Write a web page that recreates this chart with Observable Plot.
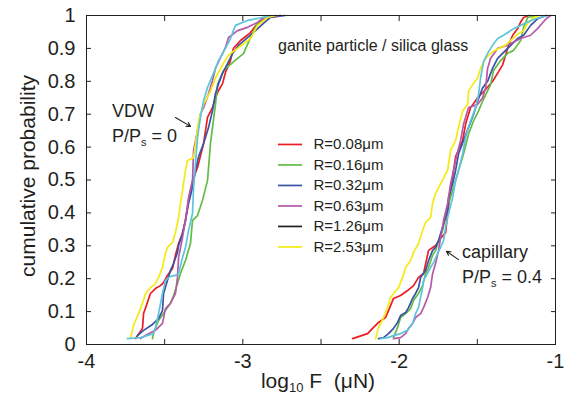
<!DOCTYPE html>
<html><head><meta charset="utf-8">
<script src="https://cdn.jsdelivr.net/npm/d3@7"></script>
<script src="https://cdn.jsdelivr.net/npm/@observablehq/plot@0.6"></script>
<style>body{margin:0;background:#fff} svg{display:block}</style>
</head><body><div id="chart"></div>
<script>
// ---- data ----
const series = ["R=0.08μm", "R=0.16μm", "R=0.32μm", "R=0.63μm", "R=1.26μm", "R=2.53μm"];
const lineColors = ["#ec1c24", "#62bb47", "#3a53a4", "#b559a8", "#5ec4dc", "#f5ea14"];
const legendColors = ["#ec1c24", "#62bb47", "#3a53a4", "#b559a8", "#231f20", "#f5ea14"];
const xTicks = [-4, -3.5, -3, -2.5, -2, -1.5, -1];
const xLabels = [-4, -3, -2, -1];
const yTicks = [0, 0.1, 0.2, 0.3, 0.4, 0.5, 0.6, 0.7, 0.8, 0.9, 1];

// VDW (P/Ps = 0): [log10 F, cumulative probability]
const vdw008 = [[-3.686,0.018],[-3.642,0.049],[-3.635,0.094],[-3.610,0.128],[-3.591,0.155],[-3.559,0.170],[-3.527,0.179],[-3.507,0.188],[-3.482,0.210],[-3.450,0.231],[-3.431,0.271],[-3.411,0.307],[-3.386,0.338],[-3.367,0.377],[-3.347,0.438],[-3.322,0.498],[-3.290,0.538],[-3.251,0.611],[-3.226,0.690],[-3.194,0.720],[-3.175,0.751],[-3.155,0.772],[-3.130,0.793],[-3.111,0.827],[-3.079,0.863],[-3.060,0.900],[-3.015,0.924],[-2.951,0.948],[-2.906,0.976],[-2.842,0.994],[-2.76,1.0]];
const vdw016 = [[-3.578,0.018],[-3.571,0.036],[-3.539,0.073],[-3.495,0.103],[-3.463,0.125],[-3.443,0.149],[-3.418,0.185],[-3.399,0.216],[-3.367,0.255],[-3.335,0.307],[-3.322,0.377],[-3.290,0.392],[-3.258,0.438],[-3.226,0.498],[-3.207,0.611],[-3.175,0.730],[-3.162,0.790],[-3.123,0.833],[-3.066,0.857],[-2.996,0.884],[-2.951,0.933],[-2.906,0.976],[-2.874,0.990],[-2.79,1.0]];
const vdw032 = [[-3.674,0.027],[-3.635,0.043],[-3.578,0.061],[-3.539,0.079],[-3.514,0.103],[-3.507,0.155],[-3.482,0.195],[-3.463,0.225],[-3.443,0.246],[-3.418,0.280],[-3.411,0.301],[-3.386,0.337],[-3.367,0.377],[-3.347,0.429],[-3.322,0.477],[-3.303,0.529],[-3.283,0.571],[-3.251,0.611],[-3.219,0.660],[-3.194,0.711],[-3.175,0.763],[-3.155,0.793],[-3.130,0.824],[-3.098,0.854],[-3.066,0.884],[-3.028,0.909],[-2.970,0.933],[-2.919,0.954],[-2.868,0.976],[-2.823,0.994],[-2.73,1.0]];
const vdw063 = [[-3.655,0.018],[-3.603,0.033],[-3.559,0.043],[-3.514,0.064],[-3.495,0.109],[-3.463,0.125],[-3.431,0.155],[-3.418,0.204],[-3.411,0.264],[-3.386,0.325],[-3.367,0.377],[-3.347,0.447],[-3.322,0.498],[-3.315,0.590],[-3.290,0.650],[-3.271,0.702],[-3.251,0.720],[-3.219,0.763],[-3.194,0.802],[-3.175,0.839],[-3.143,0.872],[-3.111,0.903],[-3.091,0.933],[-3.034,0.954],[-2.970,0.964],[-2.906,0.979],[-2.868,0.994],[-2.76,1.0]];
const vdw126 = [[-3.738,0.018],[-3.655,0.021],[-3.571,0.033],[-3.559,0.052],[-3.539,0.094],[-3.514,0.155],[-3.495,0.195],[-3.463,0.207],[-3.431,0.210],[-3.411,0.216],[-3.386,0.264],[-3.367,0.295],[-3.347,0.347],[-3.322,0.398],[-3.315,0.477],[-3.303,0.550],[-3.290,0.629],[-3.271,0.690],[-3.251,0.742],[-3.226,0.781],[-3.188,0.824],[-3.155,0.863],[-3.111,0.900],[-3.079,0.930],[-3.060,0.954],[-3.047,0.970],[-2.970,0.985],[-2.906,0.991],[-2.82,1.0]];
const vdw253 = [[-3.718,0.021],[-3.699,0.058],[-3.667,0.094],[-3.642,0.125],[-3.622,0.155],[-3.591,0.173],[-3.559,0.185],[-3.539,0.204],[-3.514,0.234],[-3.495,0.277],[-3.482,0.295],[-3.450,0.310],[-3.431,0.340],[-3.411,0.386],[-3.399,0.429],[-3.386,0.468],[-3.367,0.529],[-3.354,0.559],[-3.315,0.568],[-3.303,0.610],[-3.283,0.680],[-3.251,0.730],[-3.207,0.770],[-3.175,0.810],[-3.130,0.850],[-3.091,0.880],[-3.034,0.900],[-2.951,0.930],[-2.906,0.970],[-2.842,0.994],[-2.79,1.0]];

// capillary (P/Ps = 0.4)
const cap008 = [[-2.298,0.018],[-2.202,0.033],[-2.170,0.049],[-2.132,0.067],[-2.087,0.082],[-2.068,0.103],[-2.036,0.140],[-1.991,0.149],[-1.946,0.164],[-1.908,0.179],[-1.876,0.204],[-1.844,0.216],[-1.812,0.286],[-1.767,0.301],[-1.735,0.322],[-1.703,0.340],[-1.690,0.398],[-1.671,0.468],[-1.652,0.529],[-1.639,0.571],[-1.594,0.620],[-1.575,0.670],[-1.543,0.720],[-1.498,0.750],[-1.447,0.775],[-1.402,0.800],[-1.370,0.825],[-1.338,0.850],[-1.319,0.880],[-1.300,0.910],[-1.274,0.940],[-1.243,0.960],[-1.223,0.980],[-1.204,0.994],[-1.17,1.0]];
const cap016 = [[-2.036,0.021],[-2.010,0.052],[-1.991,0.082],[-1.959,0.094],[-1.927,0.109],[-1.908,0.134],[-1.876,0.155],[-1.850,0.179],[-1.831,0.216],[-1.812,0.234],[-1.786,0.271],[-1.767,0.286],[-1.748,0.316],[-1.722,0.347],[-1.703,0.386],[-1.684,0.429],[-1.658,0.468],[-1.626,0.520],[-1.607,0.550],[-1.588,0.580],[-1.556,0.640],[-1.524,0.680],[-1.492,0.710],[-1.466,0.740],[-1.415,0.790],[-1.396,0.833],[-1.351,0.863],[-1.306,0.885],[-1.268,0.894],[-1.223,0.924],[-1.204,0.964],[-1.178,0.994],[-1.11,1.0]];
const cap032 = [[-2.132,0.018],[-2.100,0.021],[-2.068,0.033],[-2.036,0.049],[-2.010,0.067],[-1.991,0.088],[-1.959,0.097],[-1.940,0.112],[-1.914,0.140],[-1.895,0.155],[-1.876,0.173],[-1.863,0.204],[-1.831,0.225],[-1.812,0.255],[-1.786,0.286],[-1.767,0.295],[-1.748,0.316],[-1.735,0.337],[-1.716,0.368],[-1.690,0.407],[-1.684,0.447],[-1.658,0.489],[-1.639,0.529],[-1.620,0.580],[-1.588,0.620],[-1.556,0.660],[-1.524,0.700],[-1.498,0.740],[-1.466,0.780],[-1.434,0.800],[-1.402,0.840],[-1.370,0.870],[-1.306,0.900],[-1.243,0.930],[-1.204,0.940],[-1.159,0.970],[-1.115,0.990],[-1.06,1.0]];
const cap063 = [[-2.036,0.018],[-1.991,0.021],[-1.959,0.033],[-1.940,0.049],[-1.914,0.064],[-1.895,0.082],[-1.863,0.094],[-1.844,0.112],[-1.818,0.143],[-1.799,0.173],[-1.786,0.216],[-1.767,0.246],[-1.748,0.286],[-1.735,0.325],[-1.722,0.356],[-1.716,0.377],[-1.690,0.429],[-1.671,0.489],[-1.652,0.529],[-1.639,0.560],[-1.607,0.620],[-1.588,0.670],[-1.556,0.720],[-1.498,0.730],[-1.466,0.750],[-1.447,0.780],[-1.434,0.840],[-1.415,0.870],[-1.370,0.900],[-1.306,0.910],[-1.223,0.930],[-1.159,0.940],[-1.115,0.960],[-1.06,0.990],[-1.03,1.0]];
const cap126 = [[-2.119,0.018],[-2.074,0.021],[-2.036,0.027],[-1.991,0.033],[-1.946,0.043],[-1.914,0.064],[-1.895,0.094],[-1.876,0.112],[-1.863,0.143],[-1.850,0.173],[-1.844,0.195],[-1.818,0.216],[-1.799,0.234],[-1.780,0.249],[-1.754,0.277],[-1.735,0.295],[-1.716,0.316],[-1.703,0.356],[-1.684,0.398],[-1.658,0.447],[-1.639,0.498],[-1.620,0.529],[-1.594,0.580],[-1.575,0.630],[-1.543,0.680],[-1.511,0.720],[-1.492,0.760],[-1.479,0.810],[-1.460,0.860],[-1.428,0.890],[-1.402,0.910],[-1.370,0.930],[-1.332,0.940],[-1.300,0.950],[-1.268,0.960],[-1.223,0.970],[-1.178,0.980],[-1.127,0.990],[-1.05,1.0]];
const cap253 = [[-2.151,0.018],[-2.132,0.052],[-2.100,0.082],[-2.074,0.112],[-2.055,0.143],[-2.036,0.155],[-2.004,0.173],[-1.978,0.204],[-1.959,0.234],[-1.927,0.255],[-1.908,0.280],[-1.876,0.307],[-1.850,0.347],[-1.831,0.371],[-1.799,0.386],[-1.786,0.429],[-1.767,0.459],[-1.748,0.477],[-1.722,0.500],[-1.690,0.530],[-1.671,0.590],[-1.639,0.620],[-1.620,0.660],[-1.594,0.710],[-1.562,0.730],[-1.556,0.770],[-1.530,0.790],[-1.498,0.810],[-1.479,0.840],[-1.447,0.870],[-1.402,0.890],[-1.364,0.900],[-1.319,0.910],[-1.274,0.930],[-1.236,0.945],[-1.204,0.954],[-1.178,0.976],[-1.140,0.994],[-1.10,1.0]];

const vdwCurves = [vdw008, vdw016, vdw032, vdw063, vdw126, vdw253];
const capCurves = [cap008, cap016, cap032, cap063, cap126, cap253];

// ---- chart ----
const W = 567, H = 396;
const ink = "#231f20";
const font = "'Liberation Sans', Arial, Helvetica, sans-serif";
const drawOrder = [0, 1, 2, 3, 5, 4];

const marks = [];
for (const i of drawOrder) {
  for (const curve of [vdwCurves[i], capCurves[i]]) {
    marks.push(Plot.line(curve, {x: d => d[0], y: d => d[1], stroke: lineColors[i], strokeWidth: 1.7, strokeLinejoin: "round"}));
  }
}
// legend (inside plot)
const legTop = 0.608, legStep = 0.0623;
series.forEach((s, i) => {
  marks.push(Plot.ruleY([s], {y: () => legTop - i * legStep, x1: -2.772, x2: -2.618, stroke: legendColors[i], strokeWidth: 1.7}));
  marks.push(Plot.text([s], {y: () => legTop - i * legStep, x: -2.548, text: d => d, textAnchor: "start", fontSize: 15, fill: ink}));
});
// annotation arrows
marks.push(Plot.arrow([{x1: -3.431, y1: 0.690, x2: -3.335, y2: 0.663}], {x1: "x1", y1: "y1", x2: "x2", y2: "y2", stroke: ink, strokeWidth: 1.1, headLength: 6}));
marks.push(Plot.arrow([{x1: -1.62, y1: 0.258, x2: -1.697, y2: 0.283}], {x1: "x1", y1: "y1", x2: "x2", y2: "y2", stroke: ink, strokeWidth: 1.1, headLength: 6}));
// frame & axes
marks.push(Plot.frame({stroke: ink, strokeWidth: 1}));
marks.push(Plot.axisX(xTicks, {anchor: "bottom", tickSize: -5, tickFormat: () => "", label: null, stroke: ink}));
marks.push(Plot.axisX(xTicks, {anchor: "top", tickSize: -5, tickFormat: () => "", label: null, stroke: ink}));
marks.push(Plot.axisX(xLabels, {anchor: "bottom", tickSize: 0, tickPadding: 9, tickFormat: d => String(d), label: null, fontSize: 20, fill: ink}));
marks.push(Plot.axisY(yTicks, {anchor: "left", tickSize: -5, tickFormat: () => "", label: null, stroke: ink}));
marks.push(Plot.axisY(yTicks, {anchor: "right", tickSize: -5, tickFormat: () => "", label: null, stroke: ink}));
marks.push(Plot.axisY(yTicks, {anchor: "left", tickSize: 0, tickPadding: 11, tickFormat: d => String(d), label: null, fontSize: 20, fill: ink}));

const svg = Plot.plot({
  width: W, height: H,
  marginLeft: 86, marginRight: 12, marginTop: 15, marginBottom: 52,
  style: {fontFamily: font, background: "#fff", color: ink},
  x: {domain: [-4, -1]},
  y: {domain: [0, 1]},
  marks
});

const s = d3.select(svg);
function addText(x, y, parts, size, extra = {}) {
  const t = s.append("text").attr("x", x).attr("y", y).attr("font-size", size)
    .attr("font-family", font).attr("fill", ink).attr("text-anchor", "start");
  for (const [k, v] of Object.entries(extra)) t.attr(k, v);
  for (const p of parts) {
    if (typeof p === "string") t.append("tspan").text(p);
    else t.append("tspan").attr("font-size", p.size).attr("dy", p.dy).text(p.t);
  }
  return t;
}
// axis titles
addText(0, 0, ["cumulative probability"], 21, {"text-anchor": "middle", transform: "translate(35,176) rotate(-90)"});
addText(318, 388, ["log", {t: "10", size: 13, dy: 4}, {t: " F  (μN)", size: 21, dy: -4}], 21, {"text-anchor": "middle"});
// annotations
addText(278, 51, ["ganite particle / silica glass"], 16);
addText(112, 117, ["VDW"], 18);
addText(112, 142, ["P/P", {t: "s", size: 11, dy: 4}, {t: " = 0", size: 18, dy: -4}], 18);
addText(462, 258, ["capillary"], 18);
addText(462, 283, ["P/P", {t: "s", size: 11, dy: 4}, {t: " = 0.4", size: 18, dy: -4}], 18);

document.getElementById("chart").appendChild(svg);
</script>
</body></html>
